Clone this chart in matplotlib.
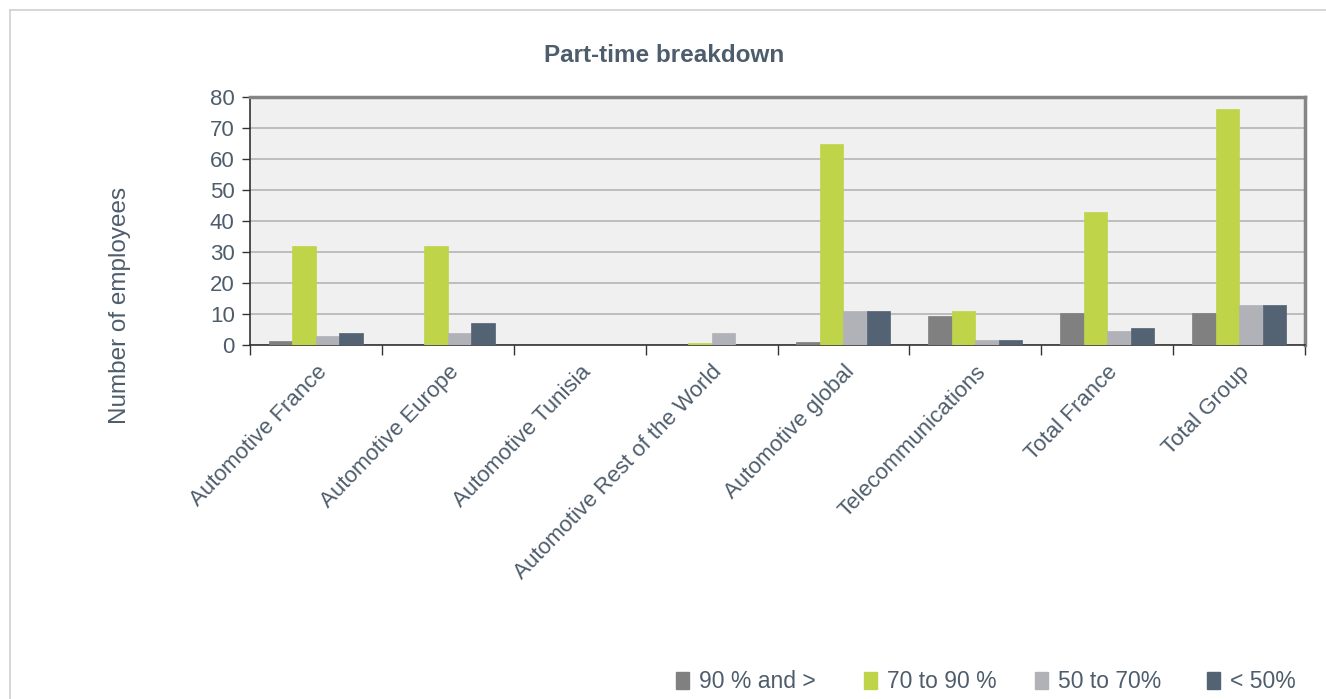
import matplotlib.pyplot as plt
import numpy as np
from matplotlib.lines import Line2D
from matplotlib.patches import Patch

plt.rcParams["font.family"] = ["Liberation Sans", "DejaVu Sans"]

categories = [
    "Automotive France",
    "Automotive Europe",
    "Automotive Tunisia",
    "Automotive Rest of the World",
    "Automotive global",
    "Telecommunications",
    "Total France",
    "Total Group",
]
series_names = ["90 % and >", "70 to 90 %", "50 to 70%", "< 50%"]
over_90 = [1.2, 0, 0, 0, 1, 9.3, 10.3, 10.3]
from_70_to_90 = [32, 32, 0, 0.8, 65, 11, 43, 76]
from_50_to_70 = [3, 4, 0, 4, 11, 1.5, 4.6, 12.8]
under_50 = [4, 7, 0, 0, 11, 1.5, 5.6, 12.8]

colors = ["#808080", "#bfd449", "#b0b2b8", "#536374"]
text_color = "#4e5d6c"

fig = plt.figure(figsize=(13.26, 6.99), dpi=100)

# thin frame around the chart area (only top and left edges fall inside the image)
fig.add_artist(Line2D([10 / 1326, 1], [1 - 10 / 699] * 2, color="#cfcfcf", lw=1.2,
                      transform=fig.transFigure))
fig.add_artist(Line2D([10 / 1326] * 2, [0, 1 - 10 / 699], color="#cfcfcf", lw=1.2,
                      transform=fig.transFigure))

ax = fig.add_axes([250 / 1326, 1 - 345 / 699, 1055 / 1326, 248 / 699])
ax.set_facecolor("#f0f0f0")

x = np.arange(len(categories))
width = 0.178
values = [over_90, from_70_to_90, from_50_to_70, under_50]
for i, (name, vals) in enumerate(zip(series_names, values)):
    offset = (i - 1.5) * width
    ax.bar(x + offset, vals, width, color=colors[i], label=name, zorder=3,
           edgecolor=colors[i], linewidth=0.5)

ax.set_xlim(-0.5, len(categories) - 0.5)
ax.set_ylim(0, 80)
ax.set_yticks(range(0, 81, 10))
ax.grid(True, axis="y", color="#b4b4b4", linewidth=1.2, zorder=0)
ax.set_axisbelow(True)

# ticks sit on category boundaries, labels on group centres
ax.set_xticks(np.arange(-0.5, len(categories) + 0.5, 1))
ax.set_xticklabels([])
ax.set_xticks(x, minor=True)
ax.set_xticklabels(categories, minor=True, rotation=46, ha="right",
                   rotation_mode="anchor", fontsize=16, color=text_color)
ax.tick_params(axis="x", which="minor", length=0, pad=12)
ax.tick_params(axis="x", which="major", length=7, width=1, color="#333333", direction="out")
ax.tick_params(axis="y", length=6, width=1, color="#333333", labelsize=16,
               labelcolor=text_color, pad=5)

ax.spines["left"].set_color("#333333")
ax.spines["bottom"].set_color("#333333")
ax.spines["left"].set_linewidth(1.2)
ax.spines["bottom"].set_linewidth(1.2)
ax.spines["top"].set_color("#858585")
ax.spines["right"].set_color("#858585")
ax.spines["top"].set_linewidth(2.5)
ax.spines["right"].set_linewidth(2.5)

fig.text(664 / 1326, 1 - 55 / 699, "Part-time breakdown", ha="center", va="center",
         fontsize=17.5, fontweight="bold", color=text_color)
fig.text(120 / 1326, 1 - 305 / 699, "Number of employees", ha="center", va="center",
         rotation=90, fontsize=17.5, color=text_color)

# one small legend per entry so each swatch sits at its own spot along the bottom
legend_x = [676, 864, 1035, 1207]
for name, color, lx in zip(series_names, colors, legend_x):
    fig.legend([Patch(facecolor=color, edgecolor=color)], [name], loc="center left",
               bbox_to_anchor=(lx / 1326, 1 - 682 / 699), frameon=False, fontsize=16.5,
               labelcolor=text_color, handlelength=0.55, handleheight=0.8,
               handletextpad=0.45, borderpad=0, borderaxespad=0)

fig.savefig("out.png", dpi=100)
